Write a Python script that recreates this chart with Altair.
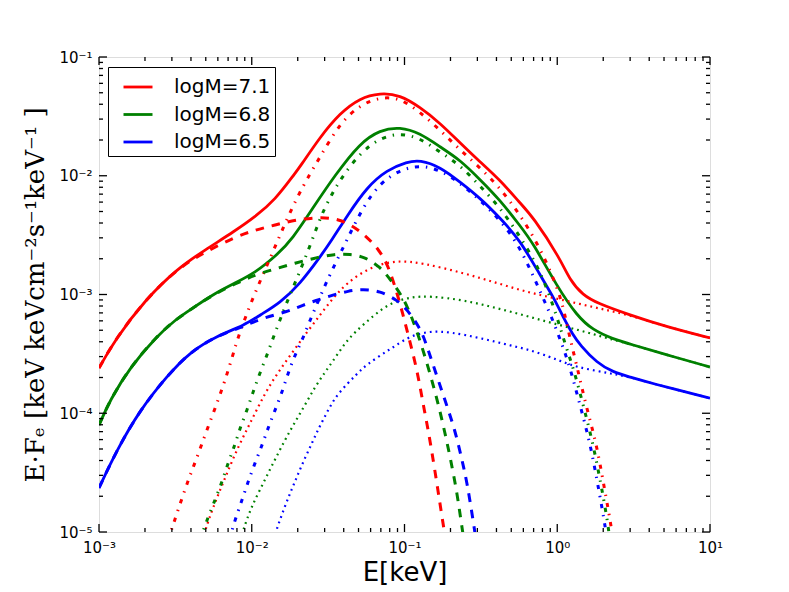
import altair as alt
import pandas as pd

# ---------------- data ----------------
models = ["logM=7.1", "logM=6.8", "logM=6.5"]
colors = ["#ff0000", "#008000", "#0000ff"]

# logM = 7.1 (red)
r_tot_E = [1.00e-3, 1.27e-3, 2.00e-3, 3.29e-3, 4.94e-3, 7.77e-3, 1.05e-2, 1.42e-2, 1.92e-2, 2.07e-2,
           2.80e-2, 3.78e-2, 5.11e-2, 6.91e-2, 9.34e-2, 0.126, 0.171, 0.231, 0.312, 0.422,
           0.570, 0.694, 1.04, 1.21, 1.47, 1.82, 2.86, 5.23, 10.0]
r_tot_F = [2.40e-4, 4.14e-4, 9.00e-4, 1.67e-3, 2.37e-3, 3.43e-3, 4.50e-3, 6.25e-3, 1.05e-2, 1.19e-2,
           2.12e-2, 3.37e-2, 4.52e-2, 4.98e-2, 4.79e-2, 3.79e-2, 2.78e-2, 1.89e-2, 1.31e-2, 9.20e-3,
           5.90e-3, 4.50e-3, 2.03e-3, 1.32e-3, 9.91e-4, 8.48e-4, 6.85e-4, 5.33e-4, 4.31e-4]
r_disk_E = [1.00e-3, 1.27e-3, 2.00e-3, 3.29e-3, 4.94e-3, 7.77e-3, 1.05e-2, 1.42e-2, 1.92e-2, 2.80e-2,
            3.78e-2, 5.11e-2, 6.91e-2, 8.04e-2, 9.34e-2, 0.105, 0.121, 0.132, 0.143, 0.158, 0.176, 0.186]
r_disk_F = [2.40e-4, 4.14e-4, 9.00e-4, 1.67e-3, 2.28e-3, 3.05e-3, 3.49e-3, 3.85e-3, 4.24e-3, 4.50e-3,
            4.32e-3, 3.49e-3, 2.37e-3, 1.61e-3, 8.48e-4, 4.74e-4, 2.31e-4, 1.22e-4, 7.23e-5, 3.33e-5,
            1.34e-5, 8.57e-6]
r_warm_E = [2.83e-3, 3.01e-3, 3.77e-3, 4.25e-3, 5.17e-3, 6.39e-3, 7.54e-3, 8.13e-3, 1.02e-2, 1.28e-2,
            1.58e-2, 1.98e-2, 2.41e-2, 2.80e-2, 3.78e-2, 5.11e-2, 6.91e-2, 9.34e-2, 0.126, 0.171,
            0.231, 0.312, 0.422, 0.570, 0.771, 1.04, 1.14, 1.25, 1.35, 1.54, 1.80, 1.99, 2.21, 2.32]
r_warm_F = [8.57e-6, 1.08e-5, 2.59e-5, 3.81e-5, 7.66e-5, 1.57e-4, 3.10e-4, 4.39e-4, 9.53e-4, 1.84e-3,
            3.49e-3, 6.62e-3, 1.04e-2, 1.44e-2, 2.78e-2, 3.94e-2, 4.60e-2, 4.52e-2, 3.44e-2, 2.43e-2,
            1.65e-2, 1.17e-2, 7.90e-3, 4.70e-3, 2.50e-3, 1.03e-3, 6.10e-4, 3.61e-4, 2.45e-4, 1.17e-4,
            5.61e-5, 2.74e-5, 1.31e-5, 8.57e-6]
r_hot_E = [4.80e-3, 4.94e-3, 5.49e-3, 6.68e-3, 8.13e-3, 1.00e-2, 1.22e-2, 1.49e-2, 1.83e-2, 2.30e-2,
           2.80e-2, 3.40e-2, 4.20e-2, 5.94e-2, 8.93e-2, 0.132, 0.242, 0.403, 0.663, 1.09,
           1.82, 2.99, 5.23, 10.0]
r_hot_F = [8.57e-6, 1.02e-5, 1.53e-5, 2.85e-5, 5.20e-5, 8.77e-5, 1.48e-4, 2.22e-4, 3.21e-4, 4.83e-4,
           6.71e-4, 9.35e-4, 1.25e-3, 1.71e-3, 1.95e-3, 1.84e-3, 1.52e-3, 1.25e-3, 1.03e-3, 9.00e-4,
           7.69e-4, 6.71e-4, 5.33e-4, 4.31e-4]

# logM = 6.8 (green)
g_tot_E = [1.00e-3, 1.18e-3, 1.60e-3, 2.40e-3, 3.15e-3, 3.94e-3, 5.49e-3, 7.77e-3, 1.05e-2, 1.46e-2,
           1.83e-2, 2.59e-2, 3.51e-2, 5.11e-2, 6.91e-2, 9.34e-2, 0.126, 0.171, 0.231, 0.312,
           0.422, 0.570, 0.694, 1.00, 1.35, 1.71, 2.32, 2.99, 5.23, 10.0]
g_tot_F = [7.96e-5, 1.29e-4, 2.45e-4, 4.48e-4, 6.10e-4, 7.40e-4, 9.91e-4, 1.25e-3, 1.52e-3, 2.15e-3,
           2.88e-3, 5.68e-3, 1.01e-2, 1.89e-2, 2.43e-2, 2.58e-2, 2.29e-2, 1.75e-2, 1.36e-2, 9.30e-3,
           6.25e-3, 3.80e-3, 2.72e-3, 1.16e-3, 6.59e-4, 5.02e-4, 4.22e-4, 3.83e-4, 3.10e-4, 2.45e-4]
g_disk_E = [1.00e-3, 1.18e-3, 1.60e-3, 2.40e-3, 3.15e-3, 3.94e-3, 5.49e-3, 7.77e-3, 1.05e-2, 1.42e-2,
            1.92e-2, 2.59e-2, 3.51e-2, 4.40e-2, 5.51e-2, 6.91e-2, 8.04e-2, 9.34e-2, 0.105, 0.122,
            0.143, 0.166, 0.184, 0.199, 0.221, 0.238, 0.245]
g_disk_F = [7.96e-5, 1.29e-4, 2.45e-4, 4.48e-4, 6.10e-4, 7.40e-4, 9.85e-4, 1.23e-3, 1.46e-3, 1.64e-3,
            1.84e-3, 2.03e-3, 2.19e-3, 2.19e-3, 2.07e-3, 1.71e-3, 1.35e-3, 1.03e-3, 7.85e-4, 4.74e-4,
            2.45e-4, 1.22e-4, 6.82e-5, 4.28e-5, 2.13e-5, 1.08e-5, 8.57e-6]
g_warm_E = [4.58e-3, 5.09e-3, 5.75e-3, 6.39e-3, 6.99e-3, 7.77e-3, 8.38e-3, 9.31e-3, 1.02e-2, 1.13e-2,
            1.26e-2, 1.38e-2, 1.53e-2, 1.70e-2, 1.92e-2, 2.41e-2, 2.88e-2, 3.35e-2, 3.78e-2, 5.11e-2,
            6.91e-2, 9.34e-2, 0.126, 0.171, 0.231, 0.312, 0.422, 0.570, 0.771, 0.967,
            1.14, 1.27, 1.48, 1.71, 1.91, 2.12, 2.21]
g_warm_F = [8.57e-6, 1.26e-5, 1.86e-5, 2.64e-5, 3.81e-5, 5.41e-5, 7.52e-5, 1.06e-4, 1.51e-4, 2.18e-4,
            3.10e-4, 4.31e-4, 6.10e-4, 8.65e-4, 1.25e-3, 2.56e-3, 4.85e-3, 7.00e-3, 9.20e-3, 1.56e-2,
            2.08e-2, 2.29e-2, 2.08e-2, 1.58e-2, 1.23e-2, 8.20e-3, 5.40e-3, 3.10e-3, 1.61e-3, 7.40e-4,
            3.61e-4, 2.45e-4, 1.17e-4, 5.61e-5, 2.74e-5, 1.31e-5, 8.57e-6]
g_hot_E = [8.32e-3, 8.77e-3, 9.74e-3, 1.13e-2, 1.36e-2, 1.65e-2, 1.92e-2, 2.23e-2, 2.59e-2, 3.02e-2,
           3.51e-2, 4.08e-2, 4.74e-2, 6.22e-2, 8.04e-2, 0.109, 0.147, 0.242, 0.403, 0.663,
           1.09, 1.82, 2.32, 2.99, 5.23, 10.0]
g_hot_F = [8.57e-6, 1.02e-5, 1.53e-5, 2.26e-5, 3.66e-5, 5.96e-5, 8.44e-5, 1.17e-4, 1.66e-4, 2.22e-4,
           2.92e-4, 3.91e-4, 4.83e-4, 6.59e-4, 8.48e-4, 9.53e-4, 9.71e-4, 9.00e-4, 7.69e-4, 6.47e-4,
           5.43e-4, 4.56e-4, 4.14e-4, 3.83e-4, 3.10e-4, 2.45e-4]

# logM = 6.5 (blue)
b_tot_E = [1.00e-3, 1.31e-3, 1.85e-3, 2.79e-3, 3.94e-3, 5.92e-3, 9.03e-3, 1.13e-2, 1.53e-2, 2.07e-2,
           2.80e-2, 3.35e-2, 4.20e-2, 5.68e-2, 7.68e-2, 0.104, 0.126, 0.171, 0.231, 0.312,
           0.422, 0.570, 0.771, 0.967, 1.09, 1.27, 1.41, 1.82, 2.32, 2.99, 4.05, 10.0]
b_tot_F = [2.35e-5, 4.91e-5, 1.06e-4, 2.06e-4, 3.28e-4, 4.48e-4, 5.53e-4, 6.71e-4, 8.48e-4, 1.23e-3,
           2.07e-3, 2.88e-3, 4.58e-3, 8.04e-3, 1.12e-2, 1.31e-2, 1.36e-2, 1.19e-2, 8.85e-3, 6.50e-3,
           4.41e-3, 2.88e-3, 1.46e-3, 9.00e-4, 6.47e-4, 4.56e-4, 3.76e-4, 2.65e-4, 2.22e-4, 2.02e-4,
           1.80e-4, 1.34e-4]
b_disk_E = [1.00e-3, 1.31e-3, 1.85e-3, 2.79e-3, 3.94e-3, 5.92e-3, 8.38e-3, 1.17e-2, 1.70e-2, 2.17e-2,
            2.71e-2, 3.40e-2, 4.27e-2, 5.35e-2, 6.91e-2, 8.93e-2, 0.105, 0.126, 0.136, 0.158,
            0.184, 0.214, 0.238, 0.257, 0.281, 0.294]
b_disk_F = [2.35e-5, 4.91e-5, 1.06e-4, 2.06e-4, 3.28e-4, 4.48e-4, 5.22e-4, 6.34e-4, 7.13e-4, 8.16e-4,
            9.00e-4, 9.91e-4, 1.07e-3, 1.11e-3, 1.07e-3, 9.00e-4, 7.40e-4, 5.22e-4, 4.14e-4, 2.31e-4,
            1.29e-4, 7.23e-5, 4.04e-5, 2.59e-5, 1.26e-5, 8.57e-6]
b_warm_E = [7.10e-3, 7.42e-3, 7.77e-3, 8.64e-3, 9.45e-3, 1.05e-2, 1.17e-2, 1.28e-2, 1.42e-2, 1.58e-2,
            1.73e-2, 1.92e-2, 2.17e-2, 2.41e-2, 2.71e-2, 3.02e-2, 3.61e-2, 4.20e-2, 5.35e-2, 6.91e-2,
            9.34e-2, 0.126, 0.171, 0.231, 0.312, 0.422, 0.570, 0.807, 0.924, 1.09,
            1.21, 1.41, 1.64, 1.82, 2.02, 2.12]
b_warm_F = [8.57e-6, 1.02e-5, 1.26e-5, 1.86e-5, 2.64e-5, 3.81e-5, 5.41e-5, 7.52e-5, 1.06e-4, 1.51e-4,
            2.18e-4, 3.10e-4, 4.31e-4, 6.10e-4, 8.65e-4, 1.20e-3, 1.95e-3, 2.88e-3, 5.46e-3, 8.69e-3,
            1.12e-2, 1.23e-2, 1.12e-2, 8.69e-3, 6.25e-3, 4.24e-3, 2.56e-3, 9.35e-4, 6.34e-4, 3.61e-4,
            2.45e-4, 1.17e-4, 5.61e-5, 2.74e-5, 1.31e-5, 8.57e-6]
b_hot_E = [1.40e-2, 1.44e-2, 1.65e-2, 1.83e-2, 2.01e-2, 2.23e-2, 2.48e-2, 2.71e-2, 3.02e-2, 3.35e-2,
           3.67e-2, 4.27e-2, 4.74e-2, 5.27e-2, 5.77e-2, 6.71e-2, 7.68e-2, 8.67e-2, 0.109, 0.147,
           0.199, 0.312, 0.513, 0.663, 0.896, 1.09, 1.35, 1.82, 2.32, 2.99, 4.05, 10.0]
b_hot_F = [8.57e-6, 1.02e-5, 1.66e-5, 2.30e-5, 3.08e-5, 4.20e-5, 5.61e-5, 7.23e-5, 9.48e-5, 1.22e-4,
           1.45e-4, 1.80e-4, 2.06e-4, 2.36e-4, 2.60e-4, 2.98e-4, 3.34e-4, 3.68e-4, 4.48e-4, 4.93e-4,
           4.83e-4, 4.31e-4, 3.68e-4, 3.41e-4, 2.98e-4, 2.70e-4, 2.45e-4, 2.27e-4, 2.14e-4, 2.02e-4,
           1.80e-4, 1.34e-4]

# axis ticks and labels
x_tick_values = [1e-3, 1e-2, 1e-1, 1, 10]
x_tick_labels = ["10⁻³", "10⁻²", "10⁻¹", "10⁰", "10¹"]
y_tick_values = [1e-5, 1e-4, 1e-3, 1e-2, 1e-1]
y_tick_labels = ["10⁻⁵", "10⁻⁴", "10⁻³", "10⁻²", "10⁻¹"]
x_minor = [m * d for d in [1e-3, 1e-2, 1e-1, 1] for m in range(2, 10)]
y_minor = [m * d for d in [1e-5, 1e-4, 1e-3, 1e-2] for m in range(2, 10)]

# ---------------- build table ----------------
series = [
    ("logM=7.1", "total", r_tot_E, r_tot_F), ("logM=7.1", "disk", r_disk_E, r_disk_F),
    ("logM=7.1", "warm", r_warm_E, r_warm_F), ("logM=7.1", "hot", r_hot_E, r_hot_F),
    ("logM=6.8", "total", g_tot_E, g_tot_F), ("logM=6.8", "disk", g_disk_E, g_disk_F),
    ("logM=6.8", "warm", g_warm_E, g_warm_F), ("logM=6.8", "hot", g_hot_E, g_hot_F),
    ("logM=6.5", "total", b_tot_E, b_tot_F), ("logM=6.5", "disk", b_disk_E, b_disk_F),
    ("logM=6.5", "warm", b_warm_E, b_warm_F), ("logM=6.5", "hot", b_hot_E, b_hot_F),
]
rows = []
for m, c, es, fs in series:
    for i, (e, f) in enumerate(zip(es, fs)):
        rows.append({"E": e, "F": f, "model": m, "comp": c, "i": i})
df = pd.DataFrame(rows)

W, H = 611, 475

def label_expr(labels, offset):
    arr = "[" + ",".join("'" + s + "'" for s in labels) + "]"
    return arr + "[round(log(datum.value)/LN10)+" + str(offset) + "]"

xs = alt.Scale(type="log", domain=[1e-3, 10], nice=False)
ys = alt.Scale(type="log", domain=[1e-5, 1e-1], nice=False)
cs = alt.Scale(domain=models, range=colors)

xaxis = alt.Axis(values=x_tick_values, labelExpr=label_expr(x_tick_labels, 3), ticks=False,
                 domain=False, grid=False, labelFontSize=15, labelPadding=8, labelFlush=False,
                 labelOverlap=False, labelColor="black", labelFont="DejaVu Sans",
                 title="E[keV]", titleFontSize=26, titleFontWeight="normal", titleFont="DejaVu Sans",
                 titleColor="black", titlePadding=4)
yaxis = alt.Axis(values=y_tick_values, labelExpr=label_expr(y_tick_labels, 5), ticks=False,
                 domain=False, grid=False, labelFontSize=15, labelPadding=7, labelFlush=False,
                 labelOverlap=False, labelColor="black", labelFont="DejaVu Sans",
                 title="E·Fₑ [keV keVcm⁻²s⁻¹keV⁻¹ ]", titleFontSize=26, titleFontWeight="normal",
                 titleFont="DejaVu Serif", titleColor="black", titlePadding=10)

legend = alt.Legend(title=None, orient="none", legendX=9, legendY=10, symbolType="stroke",
                    symbolSize=841, symbolStrokeWidth=2.8, labelFontSize=20, labelFont="DejaVu Sans",
                    labelColor="black", strokeColor="black", fillColor="white", padding=4,
                    symbolOffset=10, rowPadding=1.5, labelOffset=20, cornerRadius=0)

def comp_layer(comp, width, dash=None, show_legend=False):
    mk = dict(clip=True, strokeWidth=width, interpolate="basis")
    if dash is not None:
        mk["strokeDash"] = dash
    return alt.Chart(df[df["comp"] == comp]).mark_line(**mk).encode(
        x=alt.X("E:Q", scale=xs, axis=xaxis),
        y=alt.Y("F:Q", scale=ys, axis=yaxis),
        color=alt.Color("model:N", scale=cs, legend=legend if show_legend else None),
        order="i:Q",
    )

total = comp_layer("total", 2.8, None, True)
hot = comp_layer("hot", 2.2, [1.8, 4.0])
warm = comp_layer("warm", 3.0, [4.2, 6.9, 1.4, 6.9])
disk = comp_layer("disk", 3.0, [8.5, 8])

# inward ticks on all four sides
xmaj = pd.DataFrame({"E": x_tick_values})
xmin = pd.DataFrame({"E": x_minor})
ymaj = pd.DataFrame({"F": y_tick_values})
ymin = pd.DataFrame({"F": y_minor})

def xticks(d, L):
    enc = dict(x=alt.X("E:Q", scale=xs, axis=xaxis))
    bot = alt.Chart(d).mark_rule(color="black", strokeWidth=1.3).encode(
        y=alt.value(H), y2=alt.value(H - L), **enc)
    top = alt.Chart(d).mark_rule(color="black", strokeWidth=1.3).encode(
        y=alt.value(0), y2=alt.value(L), **enc)
    return [bot, top]

def yticks(d, L):
    enc = dict(y=alt.Y("F:Q", scale=ys, axis=yaxis))
    left = alt.Chart(d).mark_rule(color="black", strokeWidth=1.3).encode(
        x=alt.value(0), x2=alt.value(L), **enc)
    right = alt.Chart(d).mark_rule(color="black", strokeWidth=1.3).encode(
        x=alt.value(W), x2=alt.value(W - L), **enc)
    return [left, right]

tick_layers = xticks(xmaj, 8) + xticks(xmin, 4) + yticks(ymaj, 8) + yticks(ymin, 4)

chart = alt.layer(total, hot, warm, disk, *tick_layers).properties(
    width=W, height=H,
    autosize=alt.AutoSizeParams(type="none"),
    padding={"left": 91, "top": 49, "right": 70, "bottom": 58},
).configure_view(stroke="black", strokeWidth=1.5).configure(font="DejaVu Sans", background="white")

chart.save("out.html", embed_options={"renderer": "svg", "actions": False})
